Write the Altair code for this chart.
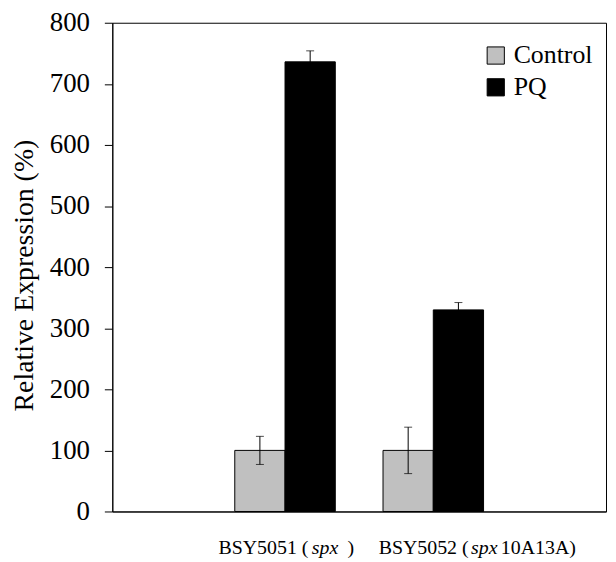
import altair as alt
import pandas as pd

groups = ["BSY5051", "BSY5052"]
conditions = ["Control", "PQ"]
control_mean = [100, 100]
control_err = [23, 38]
pq_mean = [736, 330]
pq_err = [18, 12]
y_ticks = [0, 100, 200, 300, 400, 500, 600, 700, 800]
label_pieces = [
    # group, text, italic
    ("BSY5051", "BSY5051 (", False),
    ("BSY5051", "spx", True),
    ("BSY5051", ")", False),
    ("BSY5052", "BSY5052 (", False),
    ("BSY5052", "spx", True),
    ("BSY5052", "10A13A)", False),
]
piece_dx = [-67, 27, 63, -55, 38, 68]

rows = []
for i, g in enumerate(groups):
    rows.append({"group": g, "cond": "Control", "value": control_mean[i],
                 "lo": control_mean[i] - control_err[i], "hi": control_mean[i] + control_err[i]})
    rows.append({"group": g, "cond": "PQ", "value": pq_mean[i],
                 "lo": pq_mean[i] - pq_err[i], "hi": pq_mean[i] + pq_err[i]})
df = pd.DataFrame(rows)

FONT = "Liberation Serif"
W, H = 497, 492

xscale = alt.Scale(domain=groups, paddingInner=0.322, paddingOuter=0.826, align=0.5)
yscale = alt.Scale(domain=[0, 800], nice=False)

x_enc = alt.X("group:N", scale=xscale, axis=alt.Axis(labels=False, ticks=False, title=None,
                                                     domainColor="black", domainWidth=1))
xoff = alt.XOffset("cond:N", scale=alt.Scale(domain=conditions, paddingInner=0, paddingOuter=0))

bars = alt.Chart(df).mark_bar(stroke="black", strokeWidth=1).encode(
    x=x_enc,
    xOffset=xoff,
    y=alt.Y("value:Q", scale=yscale, axis=alt.Axis(
        values=y_ticks, tickSize=8, tickColor="black", domainColor="black",
        labelFont=FONT, labelFontSize=27, labelColor="black", labelPadding=15,
        grid=False, title="Relative Expression (%)", titleFont=FONT, titleFontSize=28,
        titleFontWeight="normal", titleColor="black", titleAngle=-90, titleX=-80, titleY=254,
        titleAlign="center", titleBaseline="alphabetic")),
    color=alt.Color("cond:N", scale=alt.Scale(domain=conditions, range=["#c0c0c0", "#000000"]),
                    legend=alt.Legend(title=None, orient="none", legendX=373, legendY=20,
                                      symbolType="square", symbolSize=300, symbolStrokeColor="black",
                                      symbolStrokeWidth=1, symbolOpacity=1,
                                      labelFont=FONT, labelFontSize=26, labelColor="black",
                                      labelOffset=5, rowPadding=6)),
)

err = alt.Chart(df).mark_rule(color="black", strokeWidth=1).encode(
    x=alt.X("group:N", scale=xscale), xOffset=xoff,
    y=alt.Y("lo:Q", scale=yscale), y2="hi:Q")
cap_hi = alt.Chart(df).mark_tick(color="black", thickness=1, size=8).encode(
    x=alt.X("group:N", scale=xscale), xOffset=xoff, y=alt.Y("hi:Q", scale=yscale))
cap_lo = alt.Chart(df).mark_tick(color="black", thickness=1, size=8).encode(
    x=alt.X("group:N", scale=xscale), xOffset=xoff, y=alt.Y("lo:Q", scale=yscale))

layers = [bars, err, cap_hi, cap_lo]
for (g, t, ital), dx in zip(label_pieces, piece_dx):
    d = pd.DataFrame({"group": [g], "text": [t]})
    layers.append(alt.Chart(d).mark_text(
        font=FONT, fontSize=20, fontStyle="italic" if ital else "normal", color="black",
        align="left", baseline="alphabetic", dx=dx).encode(
        x=alt.X("group:N", scale=xscale), y=alt.value(H + 43), text="text:N"))

chart = alt.layer(*layers).properties(
    width=W, height=H,
    autosize=alt.AutoSizeParams(type="none"),
    padding={"left": 105, "top": 13, "right": 2, "bottom": 48},
).configure(background="white", font=FONT).configure_view(stroke="black", strokeWidth=1)

chart.save("out.html", embed_options={"renderer": "svg", "actions": False})
